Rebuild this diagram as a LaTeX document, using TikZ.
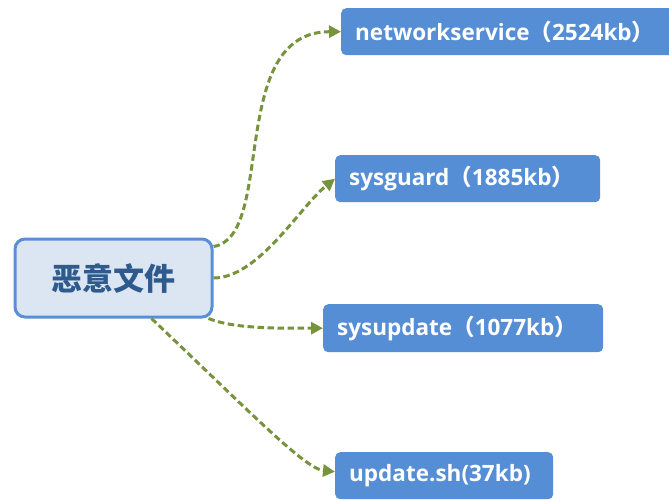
\documentclass[tikz,border=0pt]{standalone}
\usepackage{fontspec}
\setmainfont{Open Sans}
\newfontfamily\cjkfont{Noto Sans CJK SC}
\usetikzlibrary{arrows.meta}
\definecolor{leafblue}{HTML}{558ED5}
\definecolor{coreline}{HTML}{5A8FD8}
\definecolor{corefill}{HTML}{DCE6F2}
\definecolor{coretext}{HTML}{2F5A8E}
\definecolor{linkgreen}{HTML}{77933C}
\newcommand{\fw}[1]{{\cjkfont #1}}
\begin{document}
\begin{tikzpicture}[x=1pt,y=-1pt,
  leaf/.style={fill=leafblue, rounded corners=5pt, text=white,
    font=\bfseries\fontsize{22.5}{26}\selectfont, anchor=north west,
    inner xsep=14pt, inner ysep=0pt, align=left, minimum height=47pt},
  core/.style={draw=coreline, line width=3pt, fill=corefill, rounded corners=10pt,
    text=coretext, font=\cjkfont\bfseries\fontsize{31}{34}\selectfont,
    anchor=north west, minimum width=197pt, minimum height=78pt, align=center},
  link/.style={draw=linkgreen, line width=3pt, dash pattern=on 6.5pt off 3.5pt,
    -{Triangle[length=12pt,width=12pt]}}]
\useasboundingbox (0,0) rectangle (669,500);
\clip (0,0) rectangle (669,500);

\node[core] (core) at (13.5,237.5) {恶意文件};

\node[leaf, text width=312pt] (n1) at (341,8) {networkservice\fw{（}2524kb\fw{）}};
\node[leaf, text width=237pt] (n2) at (335,155) {sysguard\fw{（}1885kb\fw{）}};
\node[leaf, text width=252pt, minimum height=48pt] (n3) at (323,304) {sysupdate\fw{（}1077kb\fw{）}};
\node[leaf, text width=190pt] (n4) at (335,452) {update.sh(37kb)};

\draw[link] ([yshift=-9pt]core.north east) .. controls +(63,-10) and +(-115,0) .. (n1.west);
\draw[link] (core.east) .. controls +(45,0) and +(-35,28) .. (n2.west);
\draw[link] ([xshift=-5pt]core.south east) .. controls +(25,10) and +(-50,0) .. (n3.west);
\draw[link] ([xshift=38pt]core.south) .. controls +(100,95) and +(-30,-3) .. ([yshift=4pt]n4.west);
\end{tikzpicture}
\end{document}
